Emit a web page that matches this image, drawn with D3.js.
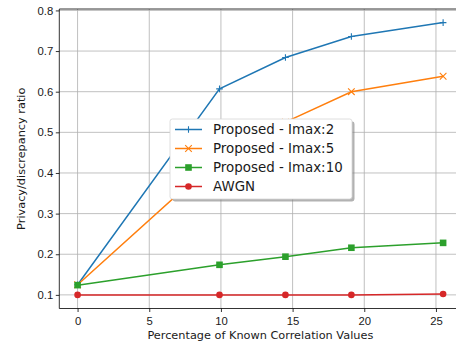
<!DOCTYPE html>
<html lang="en">
<head>
<meta charset="UTF-8">
<title>privacy ratio</title>
<script src="https://cdn.jsdelivr.net/npm/d3@7"></script>
<style>
    body { margin: 0; background: #fff; }
    svg { display: block; font-family: "DejaVu Sans", sans-serif; }
    .tick text { fill: #1a1a1a; }
</style>
</head>
<body>
<svg id="chart" width="456" height="345"></svg>
<script>
// data
const xValues = [0, 9.9, 14.5, 19.1, 25.5];
const imax2 = [0.125, 0.607, 0.684, 0.736, 0.770];
const imax5 = [0.125, 0.440, 0.525, 0.600, 0.638];
const imax10 = [0.124, 0.174, 0.194, 0.216, 0.228];
const awgn = [0.100, 0.100, 0.100, 0.100, 0.102];
const seriesNames = ["Proposed - Imax:2", "Proposed - Imax:5", "Proposed - Imax:10", "AWGN"];
const xTicks = [0, 5, 10, 15, 20, 25];
const yTicks = [0.1, 0.2, 0.3, 0.4, 0.5, 0.6, 0.7, 0.8];

const colors = ["#1f77b4", "#ff7f0e", "#2ca02c", "#d62728"];
const markers = ["plus", "cross", "square", "circle"];
const allSeries = [imax2, imax5, imax10, awgn];

let svg = d3.select("#chart");

// axes box
let axLeft = 59.3, axRight = 461.4, axTop = 9, axBottom = 308.5;
let x = d3.scaleLinear().domain([-1.275, 26.775]).range([axLeft, axRight]);
let y = d3.scaleLinear().domain([0.0665, 0.8035]).range([axBottom, axTop]);

svg.append("clipPath").attr("id", "plotclip")
    .append("rect").attr("x", axLeft).attr("y", axTop)
    .attr("width", axRight - axLeft).attr("height", axBottom - axTop);

// grid
let grid = svg.append("g").attr("clip-path", "url(#plotclip)");
grid.selectAll(".gx").data(xTicks).join("line")
    .attr("x1", d => x(d)).attr("x2", d => x(d))
    .attr("y1", axTop).attr("y2", axBottom)
    .attr("stroke", "#b0b0b0").attr("stroke-width", 0.8);
grid.selectAll(".gy").data(yTicks).join("line")
    .attr("x1", axLeft).attr("x2", axRight)
    .attr("y1", d => y(d)).attr("y2", d => y(d))
    .attr("stroke", "#b0b0b0").attr("stroke-width", 0.8);

// axes
let xAxis = svg.append("g").attr("transform", `translate(0,${axBottom})`)
    .call(d3.axisBottom(x).tickValues(xTicks).tickSize(3.5).tickPadding(4.7).tickFormat(d3.format("d")));
let yAxis = svg.append("g").attr("transform", `translate(${axLeft},0)`)
    .call(d3.axisLeft(y).tickValues(yTicks).tickSize(3.5).tickPadding(2.6).tickFormat(d3.format(".1f")));
[xAxis, yAxis].forEach(a => {
    a.select(".domain").remove();
    a.selectAll(".tick line").attr("stroke", "#000").attr("stroke-width", 0.8);
    a.selectAll(".tick text").style("font-size", "11.3px");
});

// spines
svg.append("line").attr("x1", axLeft).attr("x2", axLeft).attr("y1", axTop).attr("y2", axBottom)
    .attr("stroke", "#000").attr("stroke-width", 0.8);
svg.append("line").attr("x1", axLeft).attr("x2", axRight).attr("y1", axBottom).attr("y2", axBottom)
    .attr("stroke", "#000").attr("stroke-width", 0.8);
svg.append("line").attr("x1", axLeft).attr("x2", axRight).attr("y1", axTop).attr("y2", axTop)
    .attr("stroke", "#000").attr("stroke-width", 0.8);

function drawMarker(g, type, cx, cy, color) {
    let s = 3.3;
    if (type === "plus") {
        g.append("path").attr("d", `M${cx - s},${cy}H${cx + s}M${cx},${cy - s}V${cy + s}`)
            .attr("stroke", color).attr("stroke-width", 1.1).attr("fill", "none");
    } else if (type === "cross") {
        g.append("path").attr("d", `M${cx - s},${cy - s}L${cx + s},${cy + s}M${cx - s},${cy + s}L${cx + s},${cy - s}`)
            .attr("stroke", color).attr("stroke-width", 1.1).attr("fill", "none");
    } else if (type === "square") {
        g.append("rect").attr("x", cx - s).attr("y", cy - s).attr("width", 2 * s).attr("height", 2 * s)
            .attr("fill", color);
    } else {
        g.append("circle").attr("cx", cx).attr("cy", cy).attr("r", s).attr("fill", color);
    }
}

// series
let line = d3.line().x(d => x(d[0])).y(d => y(d[1]));
let plot = svg.append("g").attr("clip-path", "url(#plotclip)");
allSeries.forEach((vals, i) => {
    let pts = xValues.map((xv, j) => [xv, vals[j]]);
    let g = plot.append("g");
    g.append("path").datum(pts).attr("d", line)
        .attr("fill", "none").attr("stroke", colors[i]).attr("stroke-width", 1.5);
    pts.forEach(p => drawMarker(g, markers[i], x(p[0]), y(p[1]), colors[i]));
});

// axis labels
svg.append("text").attr("x", (axLeft + axRight) / 2).attr("y", 339)
    .attr("text-anchor", "middle").style("font-size", "11.3px").attr("fill", "#1a1a1a")
    .text("Percentage of Known Correlation Values");
svg.append("text").attr("transform", `translate(24.5,${(axTop + axBottom) / 2}) rotate(-90)`)
    .attr("text-anchor", "middle").style("font-size", "11.3px").attr("fill", "#1a1a1a")
    .text("Privacy/discrepancy ratio");

// legend
let lg = svg.append("g");
let lx = 170, ly = 119, lw = 182, lh = 80;
lg.append("rect").attr("x", lx + 2.5).attr("y", ly + 2.5).attr("width", lw).attr("height", lh)
    .attr("rx", 2.4).attr("fill", "#7f7f7f").attr("opacity", 0.6);
lg.append("rect").attr("x", lx).attr("y", ly).attr("width", lw).attr("height", lh)
    .attr("rx", 2.4).attr("fill", "#fff").attr("stroke", "#d6d6d6").attr("stroke-width", 0.8);
seriesNames.forEach((name, i) => {
    let cy = 129.5 + i * 19;
    lg.append("line").attr("x1", 175).attr("x2", 202).attr("y1", cy).attr("y2", cy)
        .attr("stroke", colors[i]).attr("stroke-width", 1.5);
    drawMarker(lg, markers[i], 188.5, cy, colors[i]);
    lg.append("text").attr("x", 213).attr("y", cy).attr("dy", "0.36em")
        .style("font-size", "13.4px").attr("fill", "#1a1a1a").text(name);
});
</script>
</body>
</html>
